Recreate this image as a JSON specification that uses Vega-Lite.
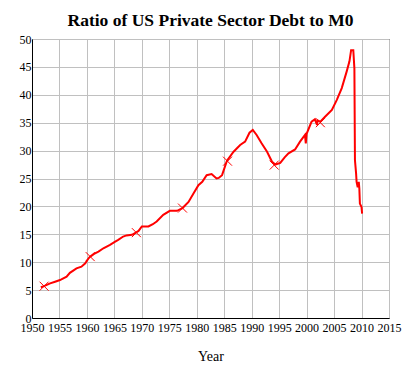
{
  "$schema": "https://vega.github.io/schema/vega-lite/v6.json",
  "autosize": "none",
  "width": 357,
  "height": 279,
  "padding": {"left": 32, "top": 39, "right": 23, "bottom": 55},
  "background": "white",
  "title": {
    "text": "Ratio of US Private Sector Debt to M0",
    "font": "Liberation Serif",
    "fontSize": 17.5,
    "fontWeight": "bold",
    "color": "black",
    "anchor": "middle",
    "baseline": "bottom",
    "offset": 10,
    "dy": 24
  },
  "config": {
    "view": {"stroke": "black", "strokeWidth": 1},
    "style": {
      "guide-label": {"font": "Liberation Serif", "fontSize": 12, "fill": "black"},
      "guide-title": {"font": "Liberation Serif", "fontSize": 14, "fontWeight": "normal", "fill": "black"}
    },
    "axis": {
      "labelFont": "Liberation Serif",
      "labelFontSize": 12,
      "labelColor": "black",
      "titleFont": "Liberation Serif",
      "titleFontSize": 14,
      "titleFontWeight": "normal",
      "titleColor": "black",
      "gridColor": "#C0C0C0",
      "gridWidth": 1,
      "gridOpacity": 1,
      "domainColor": "black",
      "domainWidth": 1,
      "ticks": false
    }
  },
  "datasets": {
    "series": [
      {"year": 1951.6, "ratio": 5.5}, {"year": 1952.2, "ratio": 5.7}, {"year": 1953.3, "ratio": 6.2},
      {"year": 1954.2, "ratio": 6.5}, {"year": 1955.1, "ratio": 6.8}, {"year": 1956.3, "ratio": 7.4},
      {"year": 1956.9, "ratio": 8.1}, {"year": 1958.1, "ratio": 8.9}, {"year": 1959.0, "ratio": 9.2},
      {"year": 1959.7, "ratio": 9.8}, {"year": 1960.3, "ratio": 10.7}, {"year": 1960.6, "ratio": 11.0},
      {"year": 1961.3, "ratio": 11.5}, {"year": 1962.1, "ratio": 11.9}, {"year": 1963.0, "ratio": 12.5},
      {"year": 1964.2, "ratio": 13.1}, {"year": 1965.0, "ratio": 13.6}, {"year": 1965.7, "ratio": 14.0},
      {"year": 1966.6, "ratio": 14.6}, {"year": 1967.2, "ratio": 14.8}, {"year": 1968.2, "ratio": 14.9},
      {"year": 1968.9, "ratio": 15.3}, {"year": 1969.4, "ratio": 15.6}, {"year": 1970.0, "ratio": 16.4},
      {"year": 1971.2, "ratio": 16.4}, {"year": 1972.0, "ratio": 16.8}, {"year": 1972.7, "ratio": 17.3},
      {"year": 1973.9, "ratio": 18.5}, {"year": 1975.1, "ratio": 19.2}, {"year": 1976.4, "ratio": 19.2},
      {"year": 1977.4, "ratio": 19.7}, {"year": 1978.5, "ratio": 20.8}, {"year": 1979.4, "ratio": 22.3},
      {"year": 1980.3, "ratio": 23.8}, {"year": 1981.0, "ratio": 24.4}, {"year": 1981.8, "ratio": 25.6},
      {"year": 1982.7, "ratio": 25.8}, {"year": 1983.6, "ratio": 25.0}, {"year": 1984.0, "ratio": 25.1},
      {"year": 1984.6, "ratio": 25.6}, {"year": 1985.5, "ratio": 28.2}, {"year": 1986.7, "ratio": 29.8},
      {"year": 1987.9, "ratio": 31.0}, {"year": 1988.8, "ratio": 31.6}, {"year": 1989.6, "ratio": 33.2},
      {"year": 1990.2, "ratio": 33.7}, {"year": 1990.9, "ratio": 32.8}, {"year": 1991.8, "ratio": 31.3},
      {"year": 1992.8, "ratio": 29.8}, {"year": 1993.7, "ratio": 28.0}, {"year": 1994.3, "ratio": 27.5},
      {"year": 1995.2, "ratio": 27.8}, {"year": 1996.0, "ratio": 28.8}, {"year": 1996.7, "ratio": 29.5},
      {"year": 1997.9, "ratio": 30.2}, {"year": 1998.8, "ratio": 31.6}, {"year": 1999.7, "ratio": 32.8},
      {"year": 1999.85, "ratio": 31.3}, {"year": 2000.0, "ratio": 33.0}, {"year": 2000.9, "ratio": 35.2},
      {"year": 2001.5, "ratio": 35.6}, {"year": 2001.9, "ratio": 34.6}, {"year": 2002.0, "ratio": 35.4},
      {"year": 2002.5, "ratio": 35.2}, {"year": 2003.4, "ratio": 36.1}, {"year": 2004.6, "ratio": 37.3},
      {"year": 2005.5, "ratio": 39.1}, {"year": 2006.4, "ratio": 41.2}, {"year": 2007.3, "ratio": 44.2},
      {"year": 2007.8, "ratio": 46.0}, {"year": 2008.1, "ratio": 48.0}, {"year": 2008.5, "ratio": 48.0},
      {"year": 2008.7, "ratio": 44.7}, {"year": 2008.8, "ratio": 28.3}, {"year": 2009.0, "ratio": 26.0},
      {"year": 2009.1, "ratio": 24.4}, {"year": 2009.3, "ratio": 23.4}, {"year": 2009.5, "ratio": 24.4},
      {"year": 2009.6, "ratio": 23.2}, {"year": 2009.7, "ratio": 20.5}, {"year": 2010.0, "ratio": 19.9},
      {"year": 2010.1, "ratio": 18.7}
    ],
    "markers": [
      {"year": 1952.2, "ratio": 5.7}, {"year": 1960.6, "ratio": 11.0}, {"year": 1969.0, "ratio": 15.3},
      {"year": 1977.4, "ratio": 19.7}, {"year": 1985.6, "ratio": 28.1}, {"year": 1994.1, "ratio": 27.4},
      {"year": 2002.5, "ratio": 35.0}
    ]
  },
  "encoding": {
    "x": {
      "field": "year", "type": "quantitative",
      "scale": {"domain": [1950, 2015], "nice": false, "zero": false},
      "axis": {
        "values": [1950, 1955, 1960, 1965, 1970, 1975, 1980, 1985, 1990, 1995, 2000, 2005, 2010, 2015],
        "format": "d", "title": "Year", "labelPadding": 4, "titlePadding": 16,
        "labelFont": "Liberation Serif", "labelFontSize": 12, "labelColor": "black",
        "titleFont": "Liberation Serif", "titleFontSize": 14, "titleFontWeight": "normal",
        "labelFlush": false, "labelOverlap": false
      }
    },
    "y": {
      "field": "ratio", "type": "quantitative",
      "scale": {"domain": [0, 50], "nice": false},
      "axis": {
        "values": [0, 5, 10, 15, 20, 25, 30, 35, 40, 45, 50],
        "labelFont": "Liberation Serif", "labelFontSize": 12, "labelColor": "black",
        "title": null, "labelPadding": 1, "labelFlush": false, "labelOverlap": false
      }
    }
  },
  "layer": [
    {
      "data": {"name": "series"},
      "mark": {"type": "line", "color": "#FF0000", "strokeWidth": 2, "interpolate": "linear"}
    },
    {
      "data": {"name": "markers"},
      "mark": {"type": "point", "shape": "M-1,-1L1,1M-1,1L1,-1", "filled": false, "stroke": "#FF0000", "strokeWidth": 1, "size": 81, "opacity": 1}
    }
  ]
}
